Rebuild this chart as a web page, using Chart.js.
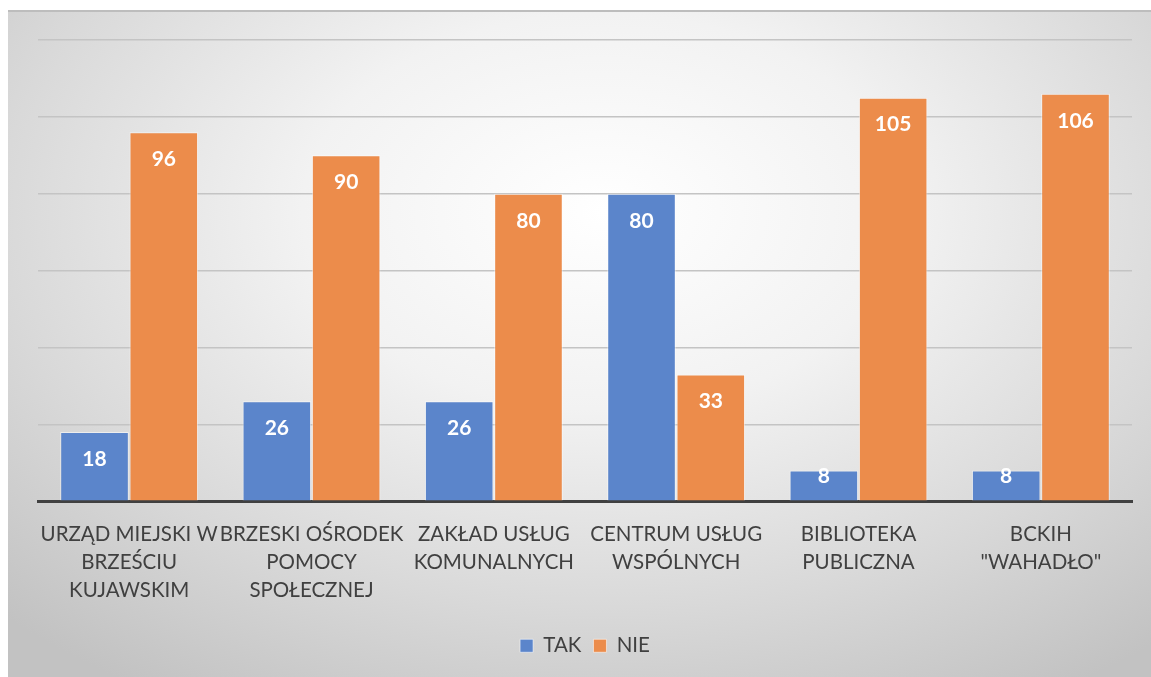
<!DOCTYPE html>
<html>
<head>
<meta charset="utf-8">
<script src="https://cdn.jsdelivr.net/npm/chart.js@4"></script>
<style>
  html, body { margin: 0; padding: 0; background: #fff; }
  #frame {
    position: absolute; left: 8px; top: 10px; width: 1143px; height: 667px;
    border-top: 2px solid #bdbdbd; box-sizing: border-box;
    background: radial-gradient(ellipse 75% 85% at 52% 30%, #ffffff 0%, #f2f2f2 35%, #d9d9d9 70%, #c2c2c2 100%);
  }
  #chart { display: block; }
</style>
</head>
<body>
<div id="frame"><canvas id="chart" width="1143" height="665"></canvas></div>
<script>
	'use strict';

	// Chart data
	const categories = [
		[ 'URZĄD MIEJSKI W', 'BRZEŚCIU', 'KUJAWSKIM' ],
		[ 'BRZESKI OŚRODEK', 'POMOCY', 'SPOŁECZNEJ' ],
		[ 'ZAKŁAD USŁUG', 'KOMUNALNYCH' ],
		[ 'CENTRUM USŁUG', 'WSPÓLNYCH' ],
		[ 'BIBLIOTEKA', 'PUBLICZNA' ],
		[ 'BCKIH', '"WAHADŁO"' ]
	];
	const takValues = [ 18, 26, 26, 80, 8, 8 ];
	const nieValues = [ 96, 90, 80, 33, 105, 106 ];
	const seriesNames = [ 'TAK', 'NIE' ];

	// value labels inside the bar tops
	const barLabels = {
		id: 'barLabels',
		afterDatasetsDraw( chart ) {
			const ctx = chart.ctx;
			ctx.save();
			ctx.fillStyle = '#ffffff';
			ctx.font = 'bold 21px Lato';
			ctx.textAlign = 'center';
			ctx.textBaseline = 'middle';
			chart.data.datasets.forEach( function( ds, i ) {
				chart.getDatasetMeta( i ).data.forEach( function( bar, j ) {
					let y = Math.min( bar.y + 27, bar.base - 24 );
					ctx.fillText( String( ds.data[j] ), bar.x, y );
				});
			});
			ctx.restore();
		}
	};

	let ctx = document.getElementById( 'chart' );
	let myChart = new Chart( ctx, {
		type: 'bar',
		data: {
			labels: categories,
			datasets: [
				{
					label: seriesNames[0],
					data: takValues,
					backgroundColor: '#5b85cb',
					borderColor: 'rgba(255,255,255,0.55)',
					borderWidth: 1,
					categoryPercentage: 0.76,
					barPercentage: 0.99
				},
				{
					label: seriesNames[1],
					data: nieValues,
					backgroundColor: '#ec8c4b',
					borderColor: 'rgba(255,255,255,0.55)',
					borderWidth: 1,
					categoryPercentage: 0.76,
					barPercentage: 0.99
				}
			]
		},
		options: {
			responsive: false,
			animation: false,
			layout: {
				padding: { top: 28, left: 30, right: 19, bottom: 11 }
			},
			plugins: {
				tooltip: { enabled: false },
				legend: {
					position: 'bottom',
					labels: {
						color: '#404040',
						font: { family: 'Lato', size: 20.5 },
						boxWidth: 13,
						boxHeight: 13,
						padding: 12
					}
				}
			},
			scales: {
				x: {
					grid: { display: false, drawTicks: false },
					border: { display: true, color: '#404040', width: 3 },
					ticks: {
						color: '#404040',
						font: { family: 'Lato', size: 20.5, lineHeight: 1.37 },
						padding: 19,
						maxRotation: 0,
						autoSkip: false
					}
				},
				y: {
					min: 0,
					max: 120,
					ticks: { display: false, stepSize: 20 },
					grid: { color: '#c4c4c4', lineWidth: 1.5, drawTicks: false },
					border: { display: false }
				}
			}
		},
		plugins: [ barLabels ]
	});
</script>
</body>
</html>
